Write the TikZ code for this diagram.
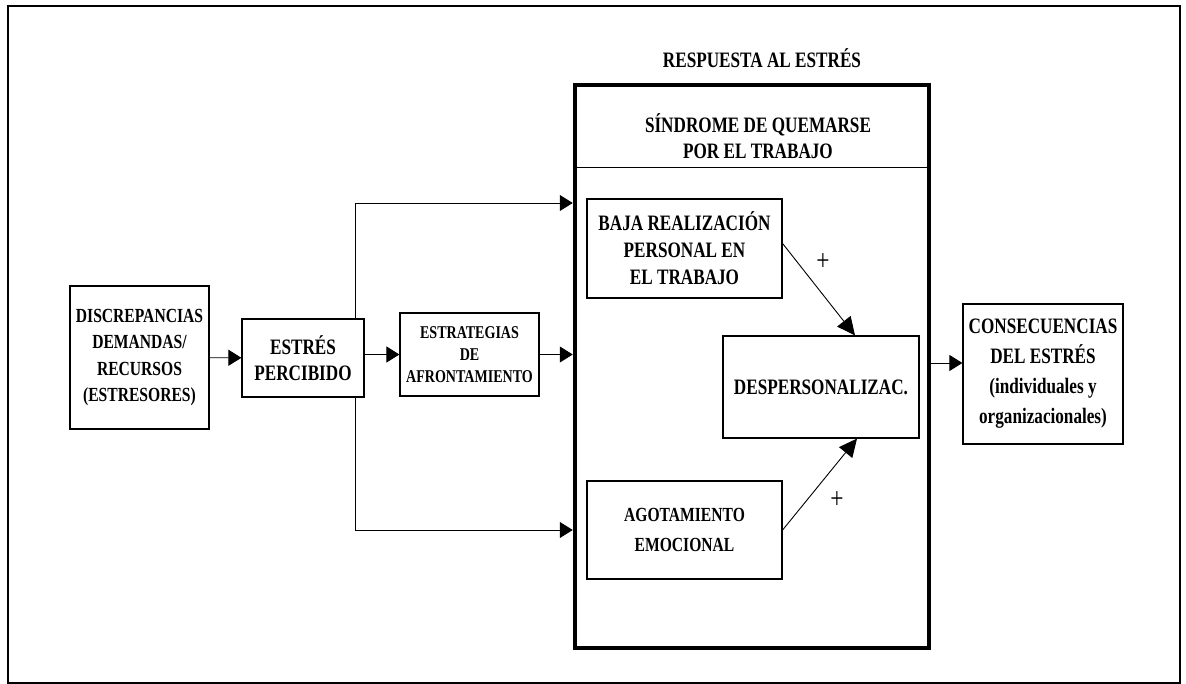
\documentclass[tikz,border=0pt]{standalone}
\usepackage{fontspec}
\setmainfont{Liberation Serif}[FakeStretch=0.78]
\usetikzlibrary{arrows.meta}
\tikzset{caja/.style = {draw, line width=1.2pt, inner sep=0pt, align=center},
         flecha/.style = {-{Triangle[length=13pt,width=16pt]}, line width=0.9pt},
         flechad/.style = {-{Triangle[length=18pt,width=17pt]}, line width=0.9pt},
         letra/.style 2 args = {font=\fontsize{#1}{#2}\selectfont\bfseries, align=center}}

\begin{document}
\begin{tikzpicture}[x=1pt, y=-1pt]
    \useasboundingbox (0,0) rectangle (1186,684);
    \draw [line width=2.8pt] (8,6) rectangle (1180,683);

    % respuesta al estres
    \node [caja, line width=4.5pt, minimum width=354pt, minimum height=563pt] (respuesta) at (752,366.5) {};
    \draw [line width=1pt] (respuesta.west |- 0,168) -- (respuesta.east |- 0,168);
    \node [letra={22}{26}, anchor=base] (titulo) at (762,68) {RESPUESTA AL ESTRÉS};
    \node [letra={22}{26}] (sindrome) at (758,136) {SÍNDROME DE QUEMARSE\\POR EL TRABAJO};

    \node [caja, letra={20}{26.5}, minimum width=139pt, minimum height=143pt] (discrepancias) at (139.5,357.5)
        {DISCREPANCIAS\\DEMANDAS/\\RECURSOS\\(ESTRESORES)};
    \node [caja, letra={22}{26}, minimum width=122pt, minimum height=78pt] (estres) at (303,358)
        {ESTRÉS\\PERCIBIDO};
    \node [caja, letra={18}{22}, minimum width=139pt, minimum height=83pt] (estrategias) at (469.5,354.5)
        {ESTRATEGIAS\\DE\\AFRONTAMIENTO};
    \node [caja, letra={22}{27}, minimum width=195pt, minimum height=99pt] (baja) at (684.5,248.5)
        {BAJA REALIZACIÓN\\PERSONAL EN\\EL TRABAJO};
    \node [caja, letra={22}{26}, minimum width=196pt, minimum height=102pt] (desp) at (821,387)
        {DESPERSONALIZAC.};
    \node [caja, letra={20}{30}, minimum width=195pt, minimum height=98pt] (agotamiento) at (684.5,530)
        {AGOTAMIENTO\\EMOCIONAL};
    \node [caja, letra={22}{30}, minimum width=160pt, minimum height=140pt] (consecuencias) at (1043,374)
        {CONSECUENCIAS\\DEL ESTRÉS\\(individuales y\\organizacionales)};

    \draw [flecha] (discrepancias) -- (estres);
    \draw [flecha] (estres.east |- estrategias) -- (estrategias);
    \draw [flecha] (estrategias) -- (estrategias -| respuesta.west);
    \draw [flecha] ([xshift=52pt]estres.north) |- (respuesta.west |- 0,203);
    \draw [flecha] ([xshift=52pt]estres.south) |- (respuesta.west |- agotamiento);
    \draw [flechad] ([yshift=5pt]baja.east) -- ([xshift=34pt]desp.north);
    \draw [flechad] (agotamiento.east) -- ([xshift=36pt]desp.south);
    \draw [flecha] (respuesta.east |- 0,363) -- (consecuencias.west |- 0,363);

    \node [font=\fontsize{30}{30}\selectfont] (mas1) at (823,262) {+};
    \node [font=\fontsize{30}{30}\selectfont] (mas2) at (837,500) {+};
\end{tikzpicture}
\end{document}
